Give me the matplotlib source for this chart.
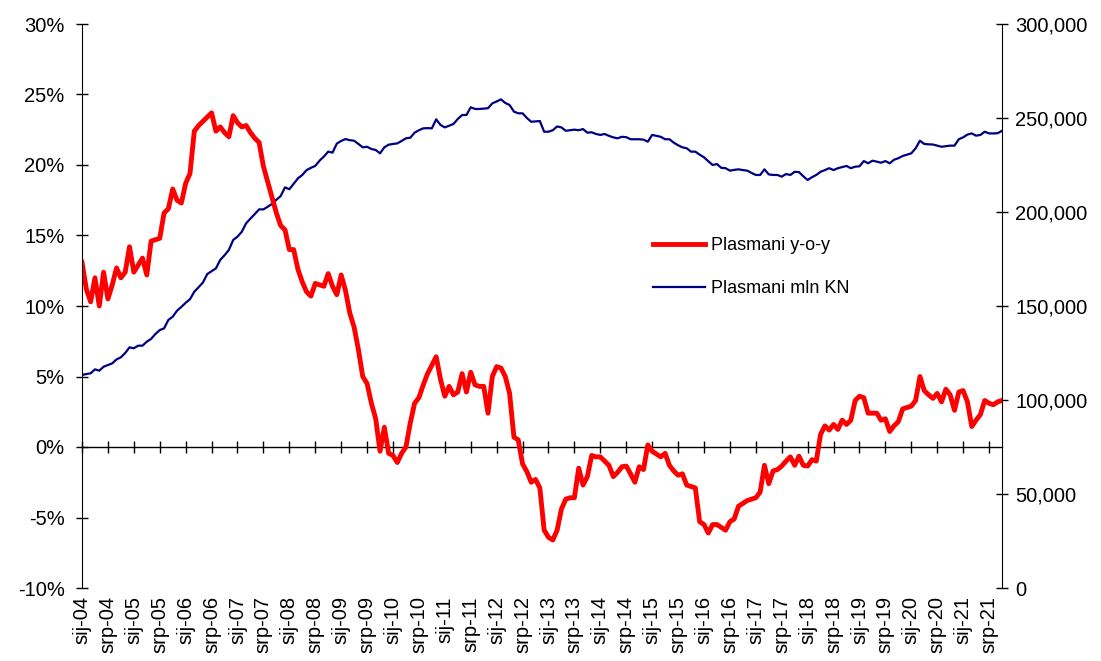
import numpy as np
import matplotlib
matplotlib.use('Agg')
import matplotlib.pyplot as plt

plt.rcParams['font.family'] = ['Liberation Sans', 'DejaVu Sans']

# plasmani y-o-y (%), monthly from sij-04 to lis-21, one row per year
rast = [13.1, 11.2, 10.3, 12.0, 10.0, 12.4, 10.5, 11.5, 12.7, 12.0, 12.4, 14.2,
        12.4, 12.9, 13.4, 12.2, 14.6, 14.7, 14.8, 16.6, 16.9, 18.3, 17.5, 17.3,
        18.7, 19.4, 22.4, 22.8, 23.1, 23.4, 23.7, 22.4, 22.7, 22.3, 22.0, 23.5,
        23.0, 22.7, 22.8, 22.3, 21.9, 21.6, 19.9, 18.8, 17.7, 16.6, 15.7, 15.4,
        14.0, 14.0, 12.6, 11.7, 11.0, 10.7, 11.6, 11.5, 11.4, 12.3, 11.4, 10.8,
        12.2, 11.1, 9.5, 8.5, 6.9, 5.0, 4.5, 3.1, 2.0, -0.3, 1.4, -0.45,
        -0.6, -1.1, -0.45, 0.0, 1.7, 3.1, 3.5, 4.4, 5.2, 5.8, 6.4, 4.8,
        3.6, 4.3, 3.7, 3.9, 5.2, 3.9, 5.3, 4.4, 4.3, 4.3, 2.4, 5.0,
        5.7, 5.6, 5.0, 3.8, 0.7, 0.5, -1.2, -1.75, -2.5, -2.3, -2.9, -5.9,
        -6.4, -6.6, -5.9, -4.4, -3.7, -3.6, -3.6, -1.5, -2.7, -2.1, -0.6, -0.7,
        -0.7, -1.0, -1.3, -2.1, -1.8, -1.4, -1.35, -1.9, -2.5, -1.4, -1.6, 0.15,
        -0.3, -0.5, -0.7, -0.45, -1.3, -1.7, -2.0, -1.9, -2.7, -2.8, -2.9, -5.3,
        -5.5, -6.1, -5.5, -5.5, -5.7, -5.9, -5.3, -5.1, -4.2, -4.0, -3.8, -3.7,
        -3.6, -3.2, -1.3, -2.6, -1.7, -1.6, -1.35, -1.0, -0.7, -1.3, -0.65, -1.3,
        -1.35, -0.9, -1.0, 0.9, 1.5, 1.2, 1.6, 1.25, 1.9, 1.6, 1.9, 3.3,
        3.6, 3.5, 2.4, 2.4, 2.4, 1.9, 2.0, 1.1, 1.5, 1.8, 2.7, 2.8,
        2.9, 3.3, 5.0, 4.0, 3.7, 3.45, 3.8, 3.2, 4.1, 3.7, 2.6, 3.9,
        4.0, 3.2, 1.45, 1.9, 2.3, 3.3, 3.1, 3.0, 3.2, 3.3]

# plasmani, mln KN (thousands of mln)
iznos = [113.3, 113.8, 114.2, 116.3, 115.6, 117.7, 118.6, 119.5, 121.6, 122.7, 125.0, 128.0,
         127.5, 128.9, 128.9, 131.0, 132.5, 135.1, 137.2, 138.1, 142.6, 144.3, 147.5, 149.5,
         151.7, 153.6, 157.6, 160.0, 162.5, 167.0, 168.5, 170.0, 174.5, 177.0, 179.8, 185.1,
         186.9, 189.5, 194.0, 196.5, 198.9, 201.4, 201.4, 202.8, 204.3, 206.5, 208.5, 213.1,
         212.1, 215.0, 217.9, 219.7, 222.3, 223.5, 224.5, 227.3, 229.5, 232.1, 231.6, 236.4,
         237.8, 238.8, 238.2, 237.9, 236.2, 234.4, 234.7, 233.5, 233.0, 231.2, 234.4, 235.8,
         236.2, 236.5, 237.8, 239.2, 239.5, 242.2, 243.5, 244.5, 244.6, 244.5, 249.3, 246.3,
         245.0, 245.9, 246.8, 249.5, 251.6, 251.6, 255.7, 254.8, 254.8, 255.0, 255.2, 257.8,
         258.8, 259.9, 258.0, 256.9, 253.4, 252.5, 252.5, 250.0, 248.0, 248.2, 248.4, 242.7,
         242.7, 243.5, 245.5, 245.0, 243.2, 243.5, 243.8, 243.5, 244.1, 242.2, 242.4, 241.5,
         241.0, 241.5, 240.5, 239.7, 239.2, 240.0, 239.8, 238.7, 238.7, 238.7, 238.5, 237.4,
         241.0, 240.5, 240.0, 238.7, 238.7, 236.9, 235.5, 234.4, 233.9, 232.1, 232.1, 230.5,
         229.1, 227.0, 225.0, 225.5, 223.5, 223.3, 222.0, 222.4, 222.7, 222.3, 222.0, 220.8,
         219.7, 219.7, 222.7, 220.0, 219.7, 219.7, 218.8, 220.2, 219.7, 221.4, 221.2, 219.0,
         217.0, 218.5, 219.7, 221.4, 222.3, 223.3, 222.3, 223.3, 223.9, 224.5, 223.3, 224.1,
         224.3, 227.1, 225.9, 227.3, 226.8, 226.2, 227.1, 225.9, 227.8, 228.6, 229.8, 230.5,
         231.2, 233.9, 237.9, 236.2, 236.0, 235.9, 235.3, 234.7, 235.0, 235.3, 235.3, 238.7,
         239.7, 241.2, 241.8, 240.6, 241.0, 242.7, 241.8, 241.8, 241.9, 243.2]
iznos = np.array(iznos) * 1000

godine = list(range(4, 22))
oznake = []
for g in godine:
    oznake += ['sij-%02d' % g, 'srp-%02d' % g]

mj = np.arange(len(rast))

fig = plt.figure(figsize=(11.01, 6.61), dpi=100)
ax = fig.add_axes([82/1101, 1-588/661, 920/1101, 564/661])
ax2 = ax.twinx()

ax.plot(mj, rast, color='#FF0000', lw=3.5, solid_joinstyle='round', label='Plasmani y-o-y')
ax2.plot(mj, iznos, color='#000080', lw=1.6, solid_joinstyle='round', label='Plasmani mln KN')

# red line on top of the blue one
ax.set_zorder(ax2.get_zorder() + 1)
ax.patch.set_visible(False)

ax.set_xlim(0, len(rast) - 1)
ax.set_ylim(-10, 30)
ax2.set_ylim(0, 300000)

yt = np.arange(-10, 31, 5)
ax.set_yticks(yt)
ax.set_yticklabels(['%d%%' % v for v in yt])
yt2 = np.arange(0, 300001, 50000)
ax2.set_yticks(yt2)
ax2.set_yticklabels(['{:,.0f}'.format(v) for v in yt2])

ax.tick_params(axis='y', direction='inout', length=9, width=1, labelsize=14.5, pad=8)
ax2.tick_params(axis='y', direction='inout', length=9, width=1, labelsize=14.5, pad=5)

# labels at the bottom, tick marks on the zero line
ax.set_xticks(mj[::6])
ax.set_xticklabels(oznake, rotation=90, va='top', ha='center')
ax.tick_params(axis='x', length=0, labelsize=14.5, pad=6)

sec = ax.secondary_xaxis(0.25)
sec.set_xticks(mj[::6])
sec.tick_params(axis='x', direction='inout', length=9, width=1, labelbottom=False)
sec.set_xticklabels([])
sec.spines['bottom'].set_linewidth(1)

for a in (ax, ax2):
    a.spines['top'].set_visible(False)
    a.spines['bottom'].set_visible(False)
ax2.spines['left'].set_visible(False)
ax.spines['right'].set_visible(False)

h1, l1 = ax.get_legend_handles_labels()
h2, l2 = ax2.get_legend_handles_labels()
fig.legend(h1 + h2, l1 + l2, loc='center left', bbox_to_anchor=(653/1101, 1-267/661),
           frameon=False, fontsize=13, handlelength=2.9, handletextpad=0.3,
           labelspacing=1.45, borderpad=0, borderaxespad=0)

plt.savefig('out.png', dpi=100)
